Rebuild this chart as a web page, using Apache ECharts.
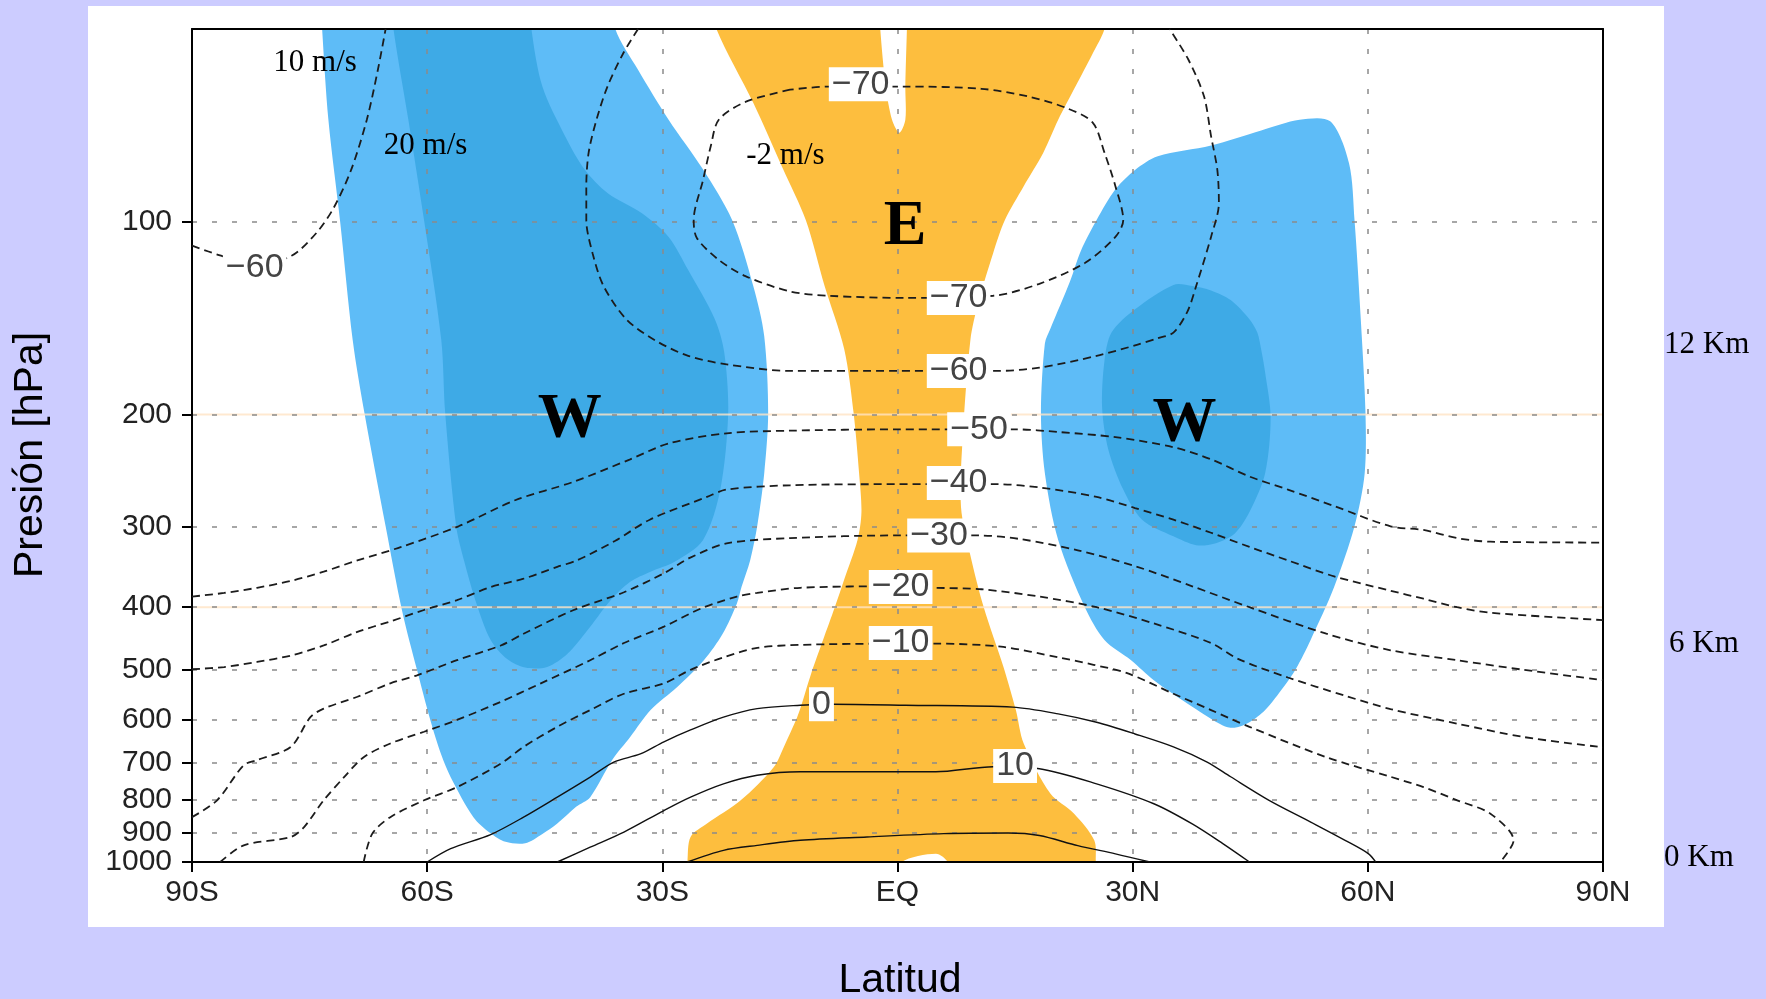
<!DOCTYPE html>
<html>
<head>
<meta charset="utf-8">
<script src="https://cdn.jsdelivr.net/npm/echarts@6.0.0/dist/echarts.min.js"></script>
<style>
  html, body { margin: 0; padding: 0; background: #ccccff; }
  #chart { width: 1766px; height: 999px; }
</style>
</head>
<body>
<div id="chart"></div>
<script>
// Axis ticks
const latTicks = [-90, -60, -30, 0, 30, 60, 90];
const pressureTicks = [100, 200, 300, 400, 500, 600, 700, 800, 900, 1000];
const highlightLevels = [200, 400];

// Zonal-wind shading outlines, [latitude, pressure hPa]; outlines run a little past the
// plot edges so the rounded corners fall outside the clipped area
const westerlyOuterSouth = [[-73.4,50],[-73.6,44],[-36.4,44],[-36.0,50],[-33.1,57.9],[-29.2,69.3],[-24.8,82.9],[-21.1,99.4],[-18.4,126],[-17.0,151],[-16.5,199],[-17.0,247],[-17.9,299],[-18.8,338],[-19.9,372],[-20.5,395],[-22.3,440],[-24.7,484],[-28.1,533],[-31.5,579],[-34.1,638],[-36.4,693],[-39.2,792],[-41.0,820],[-43.4,871],[-45.3,904],[-47.5,935],[-50.0,930],[-52.0,900],[-54.1,851],[-57.0,737],[-58.2,680],[-59.6,600],[-61.3,501],[-63.2,405],[-65.3,299],[-68.0,199],[-69.5,153],[-71.1,100],[-72.6,69.3]];
const westerlyCoreSouth = [[-64.3,50],[-64.6,44],[-46.9,44],[-46.7,50],[-45.3,61.5],[-42.4,73.5],[-39.9,82.9],[-37.0,90.2],[-32.6,97],[-29.2,105.6],[-26.7,119],[-23.3,142],[-22.1,160],[-21.6,199],[-22.6,262],[-24.8,314],[-28.5,340],[-31.5,352],[-34.1,365],[-36.6,390],[-39.2,429],[-42.1,473],[-44.7,496],[-47.5,497],[-49.8,482],[-51.9,450],[-53.7,395],[-55.3,338],[-56.3,299],[-57.7,199],[-58.2,153],[-60.4,99.4],[-62.4,69.3]];
const westerlyOuterNorth = [[46.4,72],[51.3,69.3],[55.2,69.7],[57.6,81],[58.3,99.4],[59.1,142],[59.7,199],[59.6,247],[58.3,299],[55.7,372],[52.7,450],[50.8,500],[49.3,532],[46.9,579],[44.9,605],[43.0,617],[41.5,612],[37.6,572],[32.7,520],[29.8,484],[26.4,450],[23.9,400],[20.5,314],[18.8,247],[18.3,199],[18.8,155],[19.5,147],[22.0,124],[23.4,111],[25.4,99.4],[27.8,89],[30.3,83],[33.2,79],[40.0,76]];
const westerlyCoreNorth = [[35.2,125.5],[37.6,126],[40.0,128],[42.5,132.5],[44.9,142],[45.9,149],[46.4,158.5],[46.9,172],[47.6,202],[46.9,247],[44.9,284],[43.0,307],[40.5,318],[38.1,320],[35.2,310],[31.2,292],[28.8,262],[26.9,227],[26.1,195],[26.4,165],[27.3,149],[30.3,137]];
const easterlyBand = [[-24.0,44],[-23.1,50],[-18.4,65.2],[-14.6,82.7],[-11.7,99.4],[-9.3,126],[-6.8,158],[-5.6,199],[-4.9,247],[-4.6,284],[-5.1,314],[-6.8,362],[-8.0,400],[-9.5,450],[-11.0,507],[-12.4,576],[-12.8,594],[-14.5,661],[-15.8,711],[-20.0,801],[-24.3,871],[-26.4,914],[-26.8,1000],[-26.9,1060],[-0.2,1060],[0.5,1000],[4.9,971],[6.4,1000],[7.0,1060],[25.4,1060],[25.3,1000],[25.1,925],[22.5,840],[19.5,782],[16.1,653],[15.1,579],[13.5,495],[11.0,400],[9.3,332],[8.1,279],[8.3,219],[9.3,153],[10.3,134],[12.2,112],[13.7,99.4],[16.1,88],[18.6,78],[20.5,69.3],[22.7,61.5],[24.9,54.6],[26.4,50],[27.0,44],[1.3,44],[1.2,50],[1.0,61.5],[1.0,69.3],[0.24,72.6],[-0.7,69.3],[-1.5,61.5],[-2.2,50],[-2.4,44]];

// Isotherms (°C), [latitude, pressure hPa]
const isoM70 = [[-13.7,62.2],[-19.4,65],[-22.8,69.3],[-23.8,76],[-24.8,86],[-26.0,99.4],[-25.6,106],[-22.8,114.7],[-19.4,121.6],[-13.7,128.5],[-8.8,130.5],[1.0,131.5],[12.2,130.5],[18.1,125],[23.9,116],[27.8,105.6],[28.8,99.4],[27.8,88],[26.4,78],[24.9,70],[21.5,66.4],[16.6,63.7],[10.7,62],[1.0,61.5],[-8.8,61.5],[-13.7,62.2]];
const isoM60Polar = [[-90,109],[-86.3,113],[-82,117],[-77.3,113],[-74.1,104],[-71.9,95],[-69.7,83],[-67.7,69.3],[-66.3,58],[-65.3,50]];
const isoM60 = [[-33.1,50],[-35.0,54.6],[-37.0,61.5],[-38.4,69.3],[-39.4,78],[-39.7,88],[-39.7,99.4],[-38.9,112],[-37.5,126],[-34.6,142],[-31.0,153],[-26.7,162],[-21.8,167],[-13.7,171],[0,171],[12.7,171],[18.1,169],[25.4,162],[30.3,156],[33.2,152],[35.2,149],[37.0,138],[38.1,126],[40.0,105.6],[41.0,93.5],[40.8,83],[40.0,73.5],[39.1,63.7],[37.1,55.8],[34.7,50]];
const isoM50 = [[-90,385],[-85.9,380],[-81.7,373],[-77.4,364],[-73.2,352],[-68.9,338],[-63.3,322],[-56.0,299],[-48.7,272],[-41.4,255],[-34.1,235],[-29.2,222],[-21.8,214],[-13.7,212],[0,211],[15.1,211],[20.5,213],[27.8,217],[35.2,225],[40.0,235],[44.9,250],[49.8,262],[55.7,278],[62.9,299],[67.1,303],[71.4,312],[75.6,316],[90,317]];
const isoM40 = [[-90,500],[-85.9,496],[-81.7,487],[-77.4,476],[-73.2,459],[-68.9,437],[-64.7,421],[-60.4,404],[-56.2,390],[-51.9,372],[-47.7,361],[-43.4,346],[-40.9,338],[-36.0,315],[-31.6,292],[-24.3,269],[-21.8,262],[-13.7,258],[0,257],[12.7,257],[18.1,260],[25.4,269],[30.3,280],[35.2,292],[40.0,306],[44.9,322],[49.8,338],[55.7,358],[62.9,377],[67.1,388],[71.4,400],[75.6,408],[90,419]];
const isoM30 = [[-90,851],[-86.8,801],[-83.4,706],[-81.7,693],[-77.4,661],[-74.9,594],[-73.2,576],[-68.9,552],[-64.7,526],[-61.3,511],[-56.2,484],[-50.6,459],[-47.7,440],[-41.3,404],[-34.9,379],[-29.8,354],[-26.5,335],[-21.8,318],[-13.7,312],[0,309],[10.3,309],[15.6,313],[23.0,326],[30.3,345],[37.6,371],[44.9,400],[54.7,440],[62.9,467],[71.4,484],[79.9,501],[90,520]];
const isoM20 = [[-86.4,1000],[-83.4,942],[-77.4,914],[-75.7,882],[-73.2,801],[-70.6,737],[-68.1,686],[-64.7,653],[-60.4,626],[-56.2,600],[-50.6,562],[-45.5,526],[-39.2,484],[-34.9,455],[-29.8,429],[-25.1,402],[-20.5,385],[-17.9,380],[-12.4,373],[0,371],[4.9,373],[10.7,375],[18.1,385],[25.4,400],[32.7,424],[40.0,455],[43.5,482],[49.8,515],[57.1,550],[62.9,577],[71.4,608],[79.9,638],[90,662]];
const isoM10 = [[-68.1,1000],[-67.0,903],[-64.7,851],[-60.4,801],[-56.2,764],[-50.6,702],[-47.7,661],[-43.4,615],[-39.2,579],[-34.9,546],[-29.8,526],[-26.4,501],[-22.2,479],[-17.9,463],[-12.4,458],[0,456],[4.9,456],[13.2,461],[20.5,479],[25.0,492],[29.3,507],[35.2,546],[40.0,579],[44.9,615],[54.7,686],[62.9,736],[67.1,764],[71.4,801],[75.6,840],[78.6,925],[76.9,1000]];
const iso0 = [[-60.0,1000],[-57.0,953],[-51.9,906],[-47.7,851],[-43.4,792],[-39.2,737],[-36.2,698],[-32.8,678],[-29.8,649],[-26.4,622],[-22.2,594],[-17.9,576],[-12.4,569],[-8.3,567],[1.0,569],[14.7,573],[20.5,587],[25.4,605],[30.3,631],[35.2,661],[39.5,698],[42.5,736],[47.4,801],[52.3,861],[57.1,925],[60.1,971],[61.0,1000]];
const iso10 = [[-43.4,1000],[-39.2,948],[-34.9,898],[-29.8,831],[-26.4,792],[-22.2,755],[-17.9,732],[-12.4,723],[-3.9,723],[4.9,723],[12.2,710],[18.1,715],[25.4,755],[32.7,811],[37.6,872],[41.5,936],[44.9,1000]];
const iso20 = [[-26.8,1000],[-22.2,959],[-17.9,942],[-12.4,925],[-3.9,914],[5.9,903],[14.1,901],[18.1,909],[23.0,943],[27.8,971],[32.2,1000]];

// Isotherm labels [latitude, pressure, text]
const isothermLabels = [
  [-82, 118, '\u221260'], [-4.7, 61, '\u221270'], [7.8, 131.5, '\u221270'],
  [7.8, 171, '\u221260'], [10.4, 211, '\u221250'], [7.8, 256, '\u221240'],
  [5.3, 309, '\u221230'], [0.4, 372, '\u221220'], [0.4, 455, '\u221210'],
  [-9.7, 567, '0'], [15.0, 708, '10']
];
// Wind annotations [latitude, pressure, text]
const windNotes = [[-74.3, 56.5, '10 m/s'], [-60.2, 76, '20 m/s'], [-14.3, 79, '-2 m/s']];
const jetMarks = [[0.97, 102, 'E'], [-41.8, 204, 'W'], [36.6, 207, 'W']];

const chart = echarts.init(document.getElementById('chart'), null, { renderer: 'canvas' });

const latName = v => v === 0 ? 'EQ' : (v < 0 ? (-v) + 'S' : v + 'N');
const gridDots = { show: true, lineStyle: { color: '#8a8a8a', width: 1.5, type: [5, 15] } };
const blackLine = { show: true, onZero: false, lineStyle: { color: '#000', width: 2 } };
const hiddenMarker = { color: 'rgba(0,0,0,0)', opacity: 1 };
const surfaceLevel = pressureTicks[pressureTicks.length - 1];
const pressureLabelStyle = {
  formatter: v => String(Math.round(v)),
  fontSize: 30, lineHeight: 22, color: '#222', fontFamily: 'Liberation Sans', margin: 20
};

function fillSeries(points, color) {
  return {
    type: 'custom', xAxisIndex: 0, yAxisIndex: 0, z: 1, silent: true, clip: true,
    data: [[0, 500]], encode: { x: 0, y: 1 },
    renderItem: (params, api) => ({
      type: 'polygon',
      shape: { points: points.map(pt => api.coord(pt)), smooth: 0.3 },
      style: { fill: color }
    })
  };
}

function isoSeries(points, solid) {
  return {
    type: 'line', xAxisIndex: 0, yAxisIndex: 0, z: 4, silent: true,
    symbol: 'none', smooth: 0.3, data: points,
    lineStyle: solid
      ? { color: '#111', width: 1.4, type: 'solid' }
      : { color: '#1c1c1c', width: 1.8, type: [8, 5] }
  };
}

const highlightSeries = highlightLevels.map(p => ({
  type: 'line', xAxisIndex: 0, yAxisIndex: 0, z: 2, silent: true, symbol: 'none',
  data: [[-90, p], [90, p]],
  lineStyle: { color: 'rgba(255,228,196,0.8)', width: 2 }
}));

function textStyle(text, font, align) {
  return { text, font, fill: '#000', align, verticalAlign: 'middle', textAlign: align, textVerticalAlign: 'middle' };
}

const option = {
  animation: false,
  backgroundColor: '#ccccff',
  grid: { left: 192, top: 29, right: 163, bottom: 137 },
  xAxis: [{
    type: 'value', min: -90, max: 90, interval: 30, position: 'bottom', z: 3,
    axisLine: blackLine,
    axisTick: { show: true, inside: false, length: 10, lineStyle: { color: '#000', width: 2 } },
    axisLabel: { formatter: latName, fontSize: 30, color: '#222', fontFamily: 'Liberation Sans', margin: 16, showMinLabel: true, showMaxLabel: true },
    splitLine: gridDots
  }, {
    type: 'value', min: -90, max: 90, position: 'top', z: 3,
    axisLine: blackLine, axisTick: { show: false }, axisLabel: { show: false }, splitLine: { show: false }
  }],
  yAxis: [{
    type: 'log', logBase: 10, min: 50, max: 1000, inverse: true, position: 'left', z: 3,
    axisLine: blackLine,
    axisTick: { show: true, inside: false, length: 10, customValues: pressureTicks, lineStyle: { color: '#000', width: 2 } },
    axisLabel: Object.assign({ customValues: pressureTicks.filter(p => p !== surfaceLevel) }, pressureLabelStyle),
    splitLine: gridDots
  }, {
    type: 'log', logBase: 10, min: 50, max: 1000, inverse: true, position: 'right', z: 3,
    axisLine: blackLine, axisTick: { show: false }, axisLabel: { show: false }, splitLine: { show: false }
  }, {
    // carries the surface label, which sits close to the 900 hPa label
    type: 'log', logBase: 10, min: 50, max: 1000, inverse: true, position: 'left', offset: 0, z: 3,
    axisLine: { show: false }, axisTick: { show: false }, splitLine: { show: false },
    axisLabel: Object.assign({ customValues: [surfaceLevel], showMaxLabel: true }, pressureLabelStyle)
  }],
  series: [
    fillSeries(westerlyOuterSouth, '#5ebcf7'),
    fillSeries(westerlyCoreSouth, '#3eaae6'),
    fillSeries(westerlyOuterNorth, '#5ebcf7'),
    fillSeries(westerlyCoreNorth, '#3eaae6'),
    fillSeries(easterlyBand, '#fdbe3e'),
    ...highlightSeries,
    isoSeries(isoM70, false), isoSeries(isoM60Polar, false), isoSeries(isoM60, false),
    isoSeries(isoM50, false), isoSeries(isoM40, false), isoSeries(isoM30, false),
    isoSeries(isoM20, false), isoSeries(isoM10, false),
    isoSeries(iso0, true), isoSeries(iso10, true), isoSeries(iso20, true),
    {
      type: 'scatter', xAxisIndex: 0, yAxisIndex: 0, z: 5, silent: true,
      symbolSize: 1, itemStyle: hiddenMarker,
      data: isothermLabels.map(d => ({ value: [d[0], d[1]], name: d[2] })),
      label: {
        show: true, position: 'inside', formatter: p => p.name, opacity: 1,
        fontSize: 34, lineHeight: 34, fontFamily: 'Liberation Sans', color: '#444',
        backgroundColor: '#ffffff', padding: [0, 3]
      }
    },
    {
      type: 'scatter', xAxisIndex: 0, yAxisIndex: 0, z: 6, silent: true,
      symbolSize: 1, itemStyle: hiddenMarker,
      data: windNotes.map(d => ({ value: [d[0], d[1]], name: d[2] })),
      label: { show: true, position: 'inside', formatter: p => p.name, opacity: 1, fontSize: 31, fontFamily: 'Liberation Serif', color: '#000' }
    },
    {
      type: 'scatter', xAxisIndex: 0, yAxisIndex: 0, z: 6, silent: true,
      symbolSize: 1, itemStyle: hiddenMarker,
      data: jetMarks.map(d => ({ value: [d[0], d[1]], name: d[2] })),
      label: { show: true, position: 'inside', formatter: p => p.name, opacity: 1, fontSize: 64, fontWeight: 'bold', fontFamily: 'Liberation Serif', color: '#000' }
    }
  ],
  graphic: [
    { type: 'rect', z: -100, silent: true, shape: { x: 88, y: 6, width: 1576, height: 921 }, style: { fill: '#ffffff' } },
    { type: 'text', z: 10, x: 31, y: 455, rotation: Math.PI / 2, silent: true, style: textStyle('Presi\u00f3n [hPa]', '41px "Liberation Sans"', 'center') },
    { type: 'text', z: 10, x: 900, y: 981, silent: true, style: textStyle('Latitud', '41px "Liberation Sans"', 'center') },
    { type: 'text', z: 10, x: 1664, y: 345, silent: true, style: textStyle('12 Km', '31px "Liberation Serif"', 'left') },
    { type: 'text', z: 10, x: 1669, y: 644, silent: true, style: textStyle('6 Km', '31px "Liberation Serif"', 'left') },
    { type: 'text', z: 10, x: 1664, y: 858, silent: true, style: textStyle('0 Km', '31px "Liberation Serif"', 'left') }
  ]
};

chart.setOption(option);
</script>
</body>
</html>
